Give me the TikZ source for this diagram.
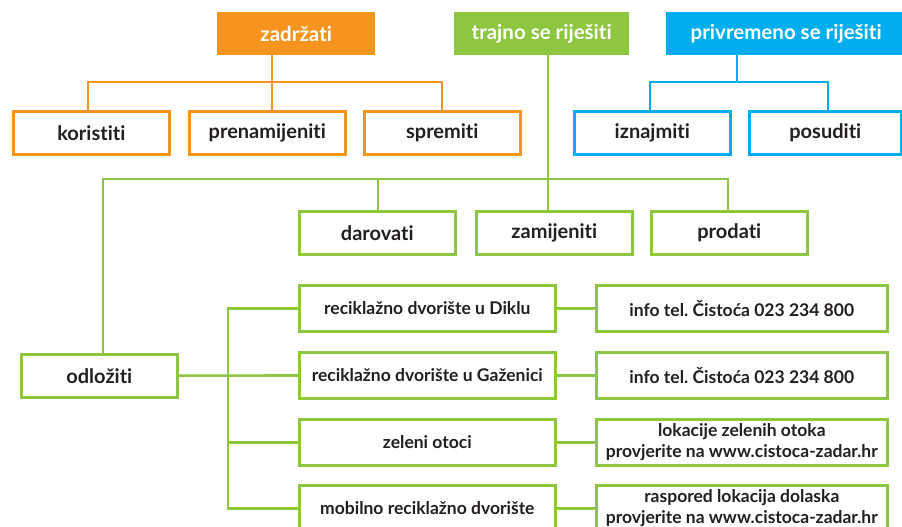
\documentclass[tikz,border=0pt]{standalone}
\usepackage{fontspec}
\setmainfont{Lato}[Ligatures=NoCommon]
\usepackage[table,usenames,dvipsnames]{xcolor}
\definecolor{zorange}{HTML}{F7941D}
\definecolor{zgreen}{HTML}{8DC63F}
\definecolor{zblue}{HTML}{00AEEF}
\definecolor{ztext}{HTML}{231F20}
\frenchspacing

\begin{document}
\begin{tikzpicture}[x=1pt, y=-1pt,
  headbox/.style={shape=rectangle, anchor=north west, inner sep=0pt, minimum height=43pt, text=white, font=\fontsize{20.5}{24}\selectfont\bfseries},
  leafbox/.style={shape=rectangle, anchor=north west, inner sep=0pt, line width=2.6pt, fill=white, text=ztext, minimum width=156pt, minimum height=43pt, font=\fontsize{20}{24}\selectfont\bfseries},
  smallbox/.style={leafbox, minimum height=46pt, align=center, font=\fontsize{17.5}{21}\selectfont\bfseries},
  branch/.style={line width=2.6pt}]
\useasboundingbox (0,0) rectangle (902,527);

% top level
\node[headbox, fill=zorange, minimum width=158pt](zadrzati) at (217,12) {zadržati};
\node[headbox, fill=zgreen, minimum width=175pt](trajno) at (454,12) {trajno se riješiti};
\node[headbox, fill=zblue, minimum width=240pt](privremeno) at (666,12) {privremeno se riješiti};

% zadrzati
\node[leafbox, draw=zorange](koristiti) at (12,110) {koristiti};
\node[leafbox, draw=zorange](prenamijeniti) at (188,110) {prenamijeniti};
\node[leafbox, draw=zorange](spremiti) at (363,110) {spremiti};
\coordinate (obus) at (272,82);
\draw[branch, zorange] (zadrzati.south -| obus) -- (obus);
\draw[branch, zorange] (koristiti.north -| 88,0) |- (obus) -| (prenamijeniti.north -| obus);
\draw[branch, zorange] (obus) -| (spremiti.north -| 442,0);

% privremeno
\node[leafbox, draw=zblue](iznajmiti) at (573,110) {iznajmiti};
\node[leafbox, draw=zblue, minimum width=152pt](posuditi) at (748,110) {posuditi};
\coordinate (bbus) at (737,82);
\draw[branch, zblue] (privremeno.south -| bbus) -- (bbus);
\draw[branch, zblue] (iznajmiti.north -| 650,0) |- (bbus) -| (posuditi.north -| 828,0);

% trajno
\node[leafbox, draw=zgreen](darovati) at (298,210) {darovati};
\node[leafbox, draw=zgreen](zamijeniti) at (475,210) {zamijeniti};
\node[leafbox, draw=zgreen](prodati) at (650,210) {prodati};
\node[leafbox, draw=zgreen](odloziti) at (20,353) {odložiti};
\coordinate (gbus) at (548,179);
\draw[branch, zgreen] (trajno.south -| gbus) -- (zamijeniti.north -| gbus);
\draw[branch, zgreen] (odloziti.north -| 103,0) |- (gbus) -| (prodati.north -| 728,0);
\draw[branch, zgreen] (darovati.north -| 378,0) -- (378,179);

% odloziti
\node[smallbox, draw=zgreen, minimum width=256pt](diklu) at (298,284) {reciklažno dvorište u Diklu};
\node[smallbox, draw=zgreen, minimum width=256pt](gazenici) at (298,351) {reciklažno dvorište u Gaženici};
\node[smallbox, draw=zgreen, minimum width=256pt](otoci) at (298,418) {zeleni otoci};
\node[smallbox, draw=zgreen, minimum width=256pt](mobilno) at (298,484) {mobilno reciklažno dvorište};
\node[smallbox, draw=zgreen, minimum width=291pt](info1) at (595,284) {info tel. Čistoća 023 234 800};
\node[smallbox, draw=zgreen, minimum width=291pt](info2) at (595,351) {info tel. Čistoća 023 234 800};
\node[smallbox, draw=zgreen, minimum width=291pt](lokacije) at (595,418) {lokacije zelenih otoka\\provjerite na www.cistoca-zadar.hr};
\node[smallbox, draw=zgreen, minimum width=291pt](raspored) at (595,484) {raspored lokacija dolaska\\provjerite na www.cistoca-zadar.hr};
\coordinate (rbus) at (228,0);
\draw[branch, zgreen] (odloziti) -- (gazenici);
\draw[branch, zgreen] (diklu) -| (rbus |- mobilno) -- (mobilno);
\draw[branch, zgreen] (otoci) -- (otoci -| rbus);
\foreach \a/\b in {diklu/info1, gazenici/info2, otoci/lokacije, mobilno/raspored}
  \draw[branch, zgreen] (\a) -- (\b);
\end{tikzpicture}
\end{document}
